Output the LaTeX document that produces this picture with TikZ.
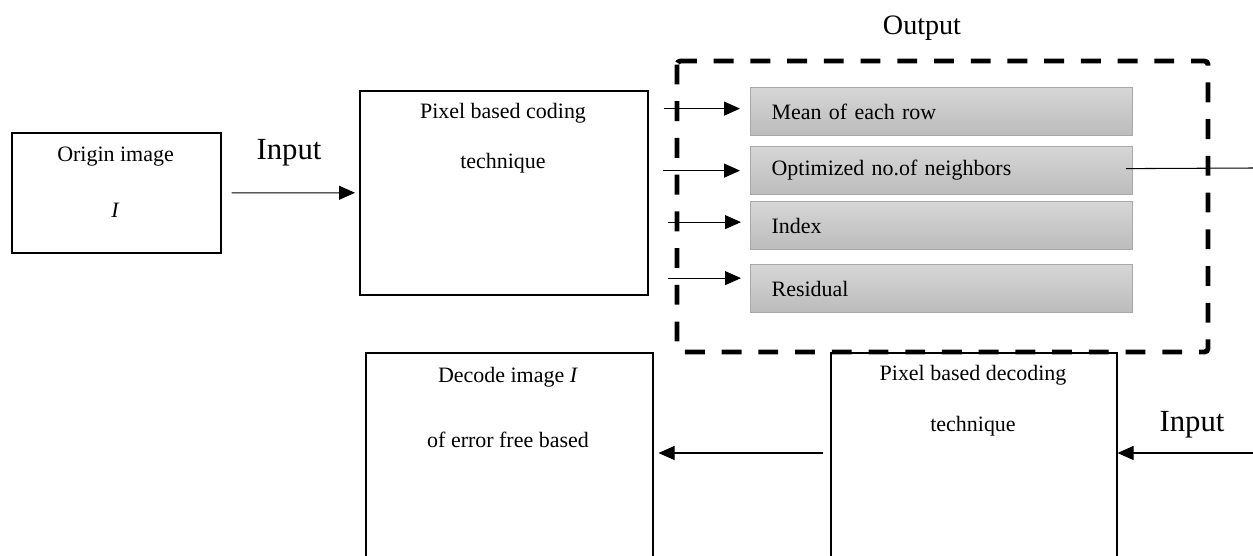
\documentclass[tikz,border=0pt]{standalone}
\usepackage{fontspec}
\setmainfont{Liberation Serif}
\usepackage{tikz}
\usetikzlibrary{positioning,arrows.meta,calc}
\definecolor{fieldtop}{HTML}{D6D6D6}
\definecolor{fieldbot}{HTML}{BCBCBC}
\definecolor{fieldedge}{HTML}{A8A8A8}

\begin{document}
\begin{tikzpicture}[x=0.02cm,y=-0.02cm,
  blk/.style={draw,line width=0.9pt,anchor=north west,inner sep=0pt},
  field/.style={draw=fieldedge,line width=0.7pt,top color=fieldtop,bottom color=fieldbot,anchor=north west,
    text width=6.8cm,inner xsep=0.42cm,inner ysep=0pt,minimum height=0.96cm,align=left,font=\fontsize{12.5}{15}\selectfont},
  txt/.style={inner sep=0pt,font=\fontsize{12.5}{15}\selectfont},
  big/.style={inner sep=0pt,font=\fontsize{17.5}{20}\selectfont},
  grp/.style={line width=2.8pt,dash pattern=on 11.3pt off 9.6pt,rounded corners=2pt},
  arr/.style={-{Triangle[length=0.32cm,width=0.28cm]},line width=0.6pt},
  link/.style={line width=0.6pt}]
\useasboundingbox (0,0) rectangle (1253,555);
\clip (0,0) rectangle (1253,555);
% encoder side
\node[blk,minimum width=4.18cm,minimum height=2.4cm] (orig) at (11,132) {};
\node[txt] at (115.5,157) {Origin image};
\node[txt] at (115.5,210) {\textit{I}};
\node[blk,minimum width=5.76cm,minimum height=4.08cm] (coder) at (359,90) {};
\node[txt] at (503,113) {Pixel based coding};
\node[txt] at (503,163) {technique};
\node[big] at (289,153) {Input};
% coded output
\node[field] (mean) at (750,87) {Mean of each row};
\node[field] (nbrs) at (750,146) {Optimized no.of neighbors};
\node[field] (idx) at (750,201) {Index};
\node[field] (res) at (750,264) {Residual};
\node[font=\fontsize{16}{18}\selectfont,inner sep=0pt] at (922,28) {Output};
% decoder side
\node[blk,minimum width=5.74cm,minimum height=4.96cm] (decimg) at (365,352) {};
\node[txt] at (508,377) {Decode image \textit{I}};
\node[txt] at (508,440) {of error free based};
\node[blk,minimum width=5.72cm,minimum height=4.96cm] (decoder) at (830,352) {};
\node[txt] at (973,375) {Pixel based decoding};
\node[txt] at (973,426) {technique};
\node[big] at (1192,425) {Input};
\coordinate (out) at (1253,168);
\coordinate (in) at (1253,453);
\draw[grp] (677,61) rectangle (1208,352);
% connectors
\draw[arr,shorten <=0.2cm,shorten >=0.08cm] (orig) -- (coder);
\draw[arr,shorten <=0.3cm,shorten >=0.2cm] ([yshift=0.06cm]coder.east |- mean.west) -- ([yshift=0.06cm]mean.west);
\draw[arr,shorten <=0.28cm,shorten >=0.2cm] (coder.east |- nbrs.west) -- (nbrs.west);
\draw[arr,shorten <=0.38cm,shorten >=0.18cm] ([yshift=0.07cm]coder.east |- idx.west) -- ([yshift=0.07cm]idx.west);
\draw[arr,shorten <=0.38cm,shorten >=0.18cm] ([yshift=0.21cm]coder.east |- res.west) -- ([yshift=0.21cm]res.west);
\draw[link] ([xshift=-0.14cm,yshift=0.04cm]nbrs.east) -- (out);
\draw[arr,shorten <=0.14cm,shorten >=0.1cm] ([yshift=-2.02cm]decoder.north west) -- ([yshift=-2.02cm]decimg.north east);
\draw[arr] (in) -- (in -| decoder.east);
\end{tikzpicture}
\end{document}
